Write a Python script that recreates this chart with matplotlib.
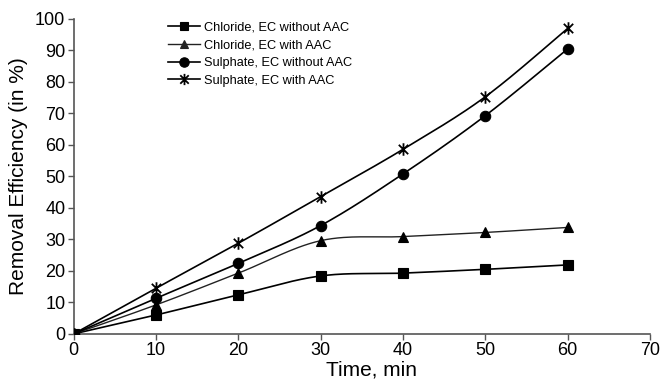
import numpy as np
import matplotlib
matplotlib.use("Agg")
import matplotlib.pyplot as plt
from matplotlib.path import Path

plt.rcParams['font.family'] = ['Liberation Sans', 'DejaVu Sans']

time_min = [0, 10, 20, 30, 40, 50, 60]
chloride_without = [0, 6.0, 12.4, 18.4, 19.3, 20.5, 21.9]
chloride_with = [0, 9.2, 19.3, 29.6, 30.9, 32.2, 33.8]
sulphate_without = [0, 11.3, 22.4, 34.4, 50.8, 69.3, 90.5]
sulphate_with = [0, 14.5, 28.8, 43.6, 58.6, 75.3, 97.0]

labels = ["Chloride, EC without AAC", "Chloride, EC with AAC",
          "Sulphate, EC without AAC", "Sulphate, EC with AAC"]


def smooth(x, y, n=30):
    x = np.asarray(x, float); y = np.asarray(y, float)
    xs, ys = [], []
    for i in range(len(x) - 1):
        p0 = np.array([x[max(i - 1, 0)], y[max(i - 1, 0)]])
        p1 = np.array([x[i], y[i]])
        p2 = np.array([x[i + 1], y[i + 1]])
        p3 = np.array([x[min(i + 2, len(x) - 1)], y[min(i + 2, len(x) - 1)]])
        c1 = p1 + (p2 - p0) / 6.0
        c2 = p2 - (p3 - p1) / 6.0
        t = np.linspace(0, 1, n)[:, None]
        pts = ((1 - t) ** 3) * p1 + 3 * ((1 - t) ** 2) * t * c1 + 3 * (1 - t) * t ** 2 * c2 + t ** 3 * p2
        xs.extend(pts[:, 0]); ys.extend(pts[:, 1])
    return np.array(xs), np.array(ys)


star = Path([(0, -1), (0, 1), (-0.75, -0.75), (0.75, 0.75), (-0.75, 0.75), (0.75, -0.75)],
            [Path.MOVETO, Path.LINETO, Path.MOVETO, Path.LINETO, Path.MOVETO, Path.LINETO])

fig = plt.figure(figsize=(6.64, 3.86), dpi=100)
ax = fig.add_axes([0.111, 0.135, 0.868, 0.816])

series = [chloride_without, chloride_with, sulphate_without, sulphate_with]
markers = ['s', '^', 'o', star]
msizes = [7, 7, 7.5, 9]
lws = [1.2, 1.0, 1.2, 1.2]
colors = ['black', '#222222', 'black', 'black']

handles = []
for ys, m, ms, lw, c, lab in zip(series, markers, msizes, lws, colors, labels):
    sx, sy = smooth(time_min, ys)
    ax.plot(sx, sy, color=c, lw=lw, zorder=2)
    ax.plot(time_min, ys, linestyle='none', marker=m, markersize=ms, color='black',
            markeredgewidth=1.3 if m is star else 0.8, zorder=3)
    h, = ax.plot([], [], color=c, lw=lw, marker=m, markersize=ms * 0.9,
                 markeredgewidth=1.3 if m is star else 0.8, label=lab)
    handles.append(h)

ax.set_xlim(0, 70)
ax.set_ylim(0, 100)
ax.set_xticks(range(0, 71, 10))
ax.set_yticks(range(0, 101, 10))
ax.tick_params(axis='both', labelsize=13, direction='out', length=4, width=1, color='#555555', pad=2)
for s in ['top', 'right']:
    ax.spines[s].set_visible(False)
for s in ['left', 'bottom']:
    ax.spines[s].set_color('#555555')
    ax.spines[s].set_linewidth(1.2)

ax.set_xlabel("Time, min", fontsize=15)
ax.xaxis.set_label_coords(0.516, -0.085)
ax.set_ylabel("Removal Efficiency (in %)", fontsize=15, labelpad=5)

leg = ax.legend(handles=handles, loc='upper left', bbox_to_anchor=(0.148, 1.02), frameon=False,
                fontsize=9.2, handlelength=2.5, handletextpad=0.3, labelspacing=0.45, borderpad=0.2)

fig.savefig("out.png", dpi=100)
